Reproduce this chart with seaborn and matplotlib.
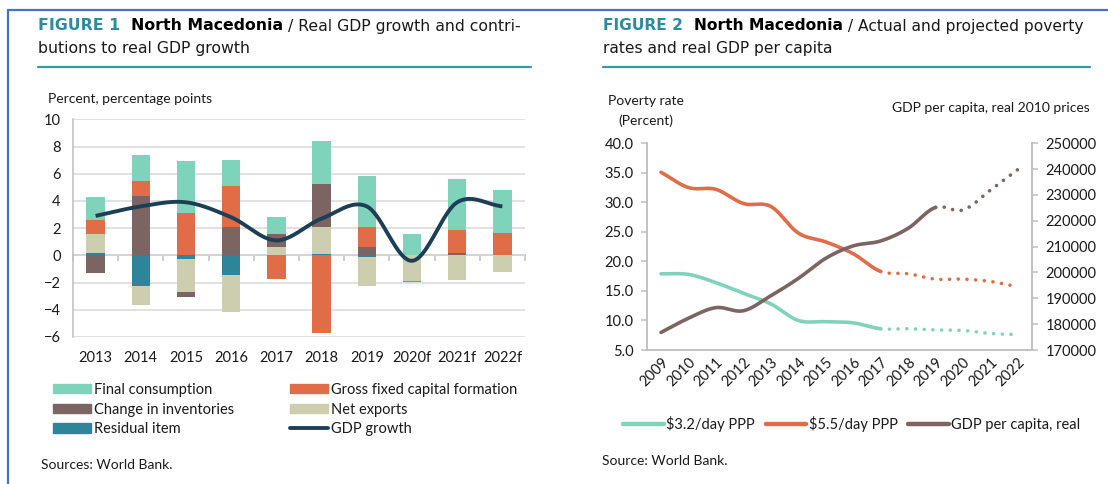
"""
North Macedonia: contribuicoes ao crescimento do PIB real e taxas de pobreza.
Gera out.png (1108x484).
"""

import numpy as np
import pandas as pd
import matplotlib
matplotlib.use("Agg")
import matplotlib.pyplot as plt
import seaborn as sns
from matplotlib.lines import Line2D
from matplotlib.patches import Patch

# --- Dados: Figura 1 ---
anos_f1 = ['2013', '2014', '2015', '2016', '2017', '2018', '2019', '2020f', '2021f', '2022f']
consumo_final = [1.67, 1.89, 3.78, 1.91, 1.23, 3.16, 3.78, 1.56, 3.77, 3.16]
fbcf = [1.00, 1.10, 3.15, 2.99, -1.73, -5.70, 1.47, -0.13, 1.63, 1.68]
var_estoques = [-1.30, 4.36, -0.34, 2.10, 0.96, 3.12, 0.58, 0.00, 0.20, 0.00]
export_liq = [1.40, -1.40, -2.45, -2.72, 0.60, 2.00, -2.14, -1.85, -1.82, -1.24]
residuo = [0.20, -2.27, -0.26, -1.46, 0.00, 0.12, -0.10, 0.00, 0.00, 0.00]
pib_cresc = [2.9, 3.6, 3.9, 2.8, 1.1, 2.7, 3.6, -0.4, 3.9, 3.6]

# --- Dados: Figura 2 ---
anos_f2 = ['2009', '2010', '2011', '2012', '2013', '2014', '2015', '2016',
           '2017', '2018', '2019', '2020', '2021', '2022']
pobreza_32 = [17.9, 17.8, 16.4, 14.6, 12.8, 10.0, 9.8, 9.6, 8.6, 8.6, 8.4, 8.3, 7.8, 7.6]
pobreza_55 = [35.1, 32.5, 32.2, 29.8, 29.3, 24.8, 23.3, 21.3, 18.3, 17.9, 17.0, 17.0, 16.6, 15.7]
pib_pc = [176800, 182300, 186400, 185200, 191000, 197700, 205500, 210300,
          212200, 217100, 225200, 224200, 231900, 239900]
ultimo_real_pobreza = '2017'
ultimo_real_pib = '2019'

# --- Cores ---
COR_CF = '#80d3bb'
COR_FBCF = '#e06c48'
COR_EST = '#7b6461'
COR_NX = '#cdcdaf'
COR_RES = '#2e8599'
COR_PIB = '#1d3f55'
COR_TITULO = '#2a8c9c'
COR_EIXO = '#bfbfbf'
COR_GRADE = '#d9d9d9'
COR_TEXTO = '#1a1a1a'

W, H = 1108, 484


def fx(x):
    return x / W


def fy(y):
    return 1 - y / H


def suavizar(xs, ys, n=24):
    """Curva suave tipo Excel (Catmull-Rom) passando pelos pontos."""
    x = np.asarray(xs, float)
    y = np.asarray(ys, float)
    px = np.concatenate([[2 * x[0] - x[1]], x, [2 * x[-1] - x[-2]]])
    py = np.concatenate([[2 * y[0] - y[1]], y, [2 * y[-1] - y[-2]]])
    segs = []
    t = np.linspace(0, 1, n)
    for i in range(len(x) - 1):
        p0, p1, p2, p3 = [np.array([px[i + k], py[i + k]]) for k in range(4)]
        c1 = p1 + (p2 - p0) / 6
        c2 = p2 - (p3 - p1) / 6
        pts = ((1 - t) ** 3)[:, None] * p1 + (3 * (1 - t) ** 2 * t)[:, None] * c1 \
            + (3 * (1 - t) * t ** 2)[:, None] * c2 + (t ** 3)[:, None] * p2
        segs.append(pts)
    return segs


def juntar(segs):
    pts = np.vstack(segs)
    return pts[:, 0], pts[:, 1]


def texto_composto(fig, x, y, partes, size):
    renderer = fig.canvas.get_renderer()
    for txt, cor, peso in partes:
        t = fig.text(x, y, txt, color=cor, fontweight=peso, fontsize=size,
                     family=['DejaVu Sans'], va='center', ha='left')
        bb = t.get_window_extent(renderer)
        x += bb.width / fig.bbox.width


def configurar_estilo():
    sns.set_theme(style="white")
    plt.rcParams['font.family'] = ['Lato', 'DejaVu Sans']
    plt.rcParams['font.size'] = 10
    plt.rcParams['text.color'] = COR_TEXTO
    plt.rcParams['xtick.color'] = COR_EIXO
    plt.rcParams['ytick.color'] = COR_EIXO
    plt.rcParams['xtick.labelcolor'] = COR_TEXTO
    plt.rcParams['ytick.labelcolor'] = COR_TEXTO


def figura1(fig):
    ax = fig.add_axes([fx(73), fy(337), fx(525) - fx(73), fy(119.3) - fy(337)])
    n = len(anos_f1)
    series = [(residuo, COR_RES), (export_liq, COR_NX), (var_estoques, COR_EST),
              (fbcf, COR_FBCF), (consumo_final, COR_CF)]
    base_pos = np.zeros(n)
    base_neg = np.zeros(n)
    for vals, cor in series:
        v = np.asarray(vals, float)
        base = np.where(v >= 0, base_pos, base_neg)
        df = pd.DataFrame({'ano': anos_f1, 'valor': v})
        sns.barplot(data=df, x='ano', y='valor', order=anos_f1, color=cor,
                    saturation=1, width=0.41, bottom=base, errorbar=None,
                    linewidth=0, ax=ax)
        base_pos = base_pos + np.where(v >= 0, v, 0)
        base_neg = base_neg + np.where(v < 0, v, 0)

    segs = suavizar(range(n), pib_cresc)
    xs, ys = juntar(segs)
    sns.lineplot(x=xs, y=ys, color=COR_PIB, lw=2.8, estimator=None, sort=False,
                 solid_capstyle='butt', ax=ax, zorder=5)

    ax.set_xlim(-0.5, n - 0.5)
    ax.set_ylim(-6, 10)
    ax.set_yticks(range(-6, 11, 2))
    ax.yaxis.grid(True, color=COR_GRADE, lw=1.1)
    ax.set_axisbelow(True)
    for s in ['top', 'right', 'bottom']:
        ax.spines[s].set_visible(False)
    ax.spines['left'].set_color(COR_EIXO)
    ax.spines['left'].set_linewidth(1.1)
    ax.tick_params(axis='y', length=3, width=1.1, pad=6, labelsize=10.5)
    ax.tick_params(axis='x', length=0, pad=10, labelsize=10.5)
    ax.set_xlabel('')
    ax.set_ylabel('')

    # eixo zero com marcas entre categorias
    sec = ax.secondary_xaxis(6 / 16)
    sec.set_xticks(np.arange(-0.5, n, 1.0))
    sec.set_xticklabels([])
    sec.tick_params(length=4, width=1.1, color=COR_EIXO, direction='out')
    sec.spines['bottom'].set_color(COR_EIXO)
    sec.spines['bottom'].set_linewidth(1.3)

    fig.text(fx(48), fy(99), 'Percent, percentage points', fontsize=10,
             va='center', ha='left')

    hs1 = [Patch(color=COR_CF), Patch(color=COR_EST), Patch(color=COR_RES)]
    ls1 = ['Final consumption', 'Change in inventories', 'Residual item']
    hs2 = [Patch(color=COR_FBCF), Patch(color=COR_NX),
           Line2D([], [], color=COR_PIB, lw=2.8)]
    ls2 = ['Gross fixed capital formation', 'Net exports', 'GDP growth']
    for hs, ls, x0 in [(hs1, ls1, 53), (hs2, ls2, 290)]:
        fig.legend(hs, ls, loc='upper left', bbox_to_anchor=(fx(x0), fy(383)),
                   frameon=False, fontsize=10.5, handlelength=2.6,
                   handleheight=0.6, handletextpad=0.2, labelspacing=0.38,
                   borderpad=0, borderaxespad=0)

    fig.text(fx(41), fy(465), 'Sources: World Bank.', fontsize=10,
             va='center', ha='left')


def figura2(fig):
    ax = fig.add_axes([fx(647.3), fy(350), fx(1031.7) - fx(647.3), fy(143.3) - fy(350)])
    ax2 = ax.twinx()
    n = len(anos_f2)
    k_pob = anos_f2.index(ultimo_real_pobreza)
    k_pib = anos_f2.index(ultimo_real_pib)
    pontilhado = (0, (0.01, 2.4))

    for vals, cor, k, eixo in [(pobreza_32, COR_CF, k_pob, ax),
                               (pobreza_55, COR_FBCF, k_pob, ax),
                               (pib_pc, COR_EST, k_pib, ax2)]:
        segs = suavizar(range(n), vals)
        xs, ys = juntar(segs[:k])
        sns.lineplot(x=xs, y=ys, color=cor, lw=2.6, estimator=None, sort=False,
                     solid_capstyle='round', ax=eixo)
        xs, ys = juntar(segs[k:])
        sns.lineplot(x=xs, y=ys, color=cor, lw=2.6, estimator=None, sort=False,
                     linestyle=pontilhado, dash_capstyle='round', ax=eixo)

    ax.set_xlim(-0.5, n - 0.5)
    ax.set_ylim(5, 40)
    ax.set_yticks(np.arange(5, 40.1, 5))
    ax.set_yticklabels([f'{v:.1f}' for v in np.arange(5, 40.1, 5)])
    ax2.set_ylim(170000, 250000)
    ax2.set_yticks(range(170000, 250001, 10000))
    ax.set_xticks(range(n))
    ax.set_xticklabels(anos_f2, rotation=45, ha='right', rotation_mode='anchor')
    ax.set_xticks(np.arange(-0.5, n, 1.0), minor=True)
    ax.tick_params(axis='x', which='major', length=0, pad=4, labelsize=10.5)
    ax.tick_params(axis='x', which='minor', length=4, width=1.1, color=COR_EIXO)
    ax.tick_params(axis='y', length=4, width=1.1, pad=6, labelsize=10.5)
    ax2.tick_params(axis='y', length=4, width=1.1, pad=6, labelsize=10.5)
    for a in (ax, ax2):
        a.spines['top'].set_visible(False)
        for s in ['left', 'right', 'bottom']:
            a.spines[s].set_color(COR_EIXO)
            a.spines[s].set_linewidth(1.1)
        a.set_xlabel('')
        a.set_ylabel('')
        a.grid(False)

    fig.text(fx(646), fy(101), 'Poverty rate', fontsize=10, va='center', ha='center')
    fig.text(fx(646), fy(121), '(Percent)', fontsize=10, va='center', ha='center')
    fig.text(fx(1090), fy(108), 'GDP per capita, real 2010 prices', fontsize=10,
             va='center', ha='right')

    hs = [Line2D([], [], color=c, lw=3.2) for c in (COR_CF, COR_FBCF, COR_EST)]
    fig.legend(hs, ['$3.2/day PPP', '$5.5/day PPP', 'GDP per capita, real'],
               loc='center left', bbox_to_anchor=(fx(623), fy(424)), ncol=3,
               frameon=False, fontsize=10.5, handlelength=2.8, handletextpad=0.15,
               columnspacing=0.75, borderpad=0, borderaxespad=0)

    fig.text(fx(602), fy(461), 'Source: World Bank.', fontsize=10,
             va='center', ha='left')


def main():
    configurar_estilo()
    fig = plt.figure(figsize=(W / 100, H / 100), dpi=100)

    # moldura azul
    cor_moldura = '#4472c4'
    fig.add_artist(Line2D([fx(8), 1], [fy(10), fy(10)], color=cor_moldura, lw=1.6,
                          transform=fig.transFigure))
    fig.add_artist(Line2D([fx(8), fx(8)], [fy(10), 0], color=cor_moldura, lw=1.6,
                          transform=fig.transFigure))

    # titulos
    texto_composto(fig, fx(38), fy(26),
                   [('FIGURE 1  ', COR_TITULO, 'bold'), ('North Macedonia', 'black', 'bold'),
                    (' / Real GDP growth and contri-', COR_TEXTO, 'normal')], 11.3)
    fig.text(fx(38), fy(49), 'butions to real GDP growth', fontsize=11.3,
             family=['DejaVu Sans'], va='center', ha='left')
    texto_composto(fig, fx(603), fy(26),
                   [('FIGURE 2  ', COR_TITULO, 'bold'), ('North Macedonia', 'black', 'bold'),
                    (' / Actual and projected poverty', COR_TEXTO, 'normal')], 11.2)
    fig.text(fx(603), fy(49), 'rates and real GDP per capita', fontsize=11.2,
             family=['DejaVu Sans'], va='center', ha='left')
    for x0, x1 in [(38, 531), (603, 1090)]:
        fig.add_artist(Line2D([fx(x0), fx(x1)], [fy(67), fy(67)], color='#3a97a5',
                              lw=1.6, transform=fig.transFigure))

    figura1(fig)
    figura2(fig)

    fig.savefig('out.png', dpi=100)
    plt.close(fig)


if __name__ == "__main__":
    main()
